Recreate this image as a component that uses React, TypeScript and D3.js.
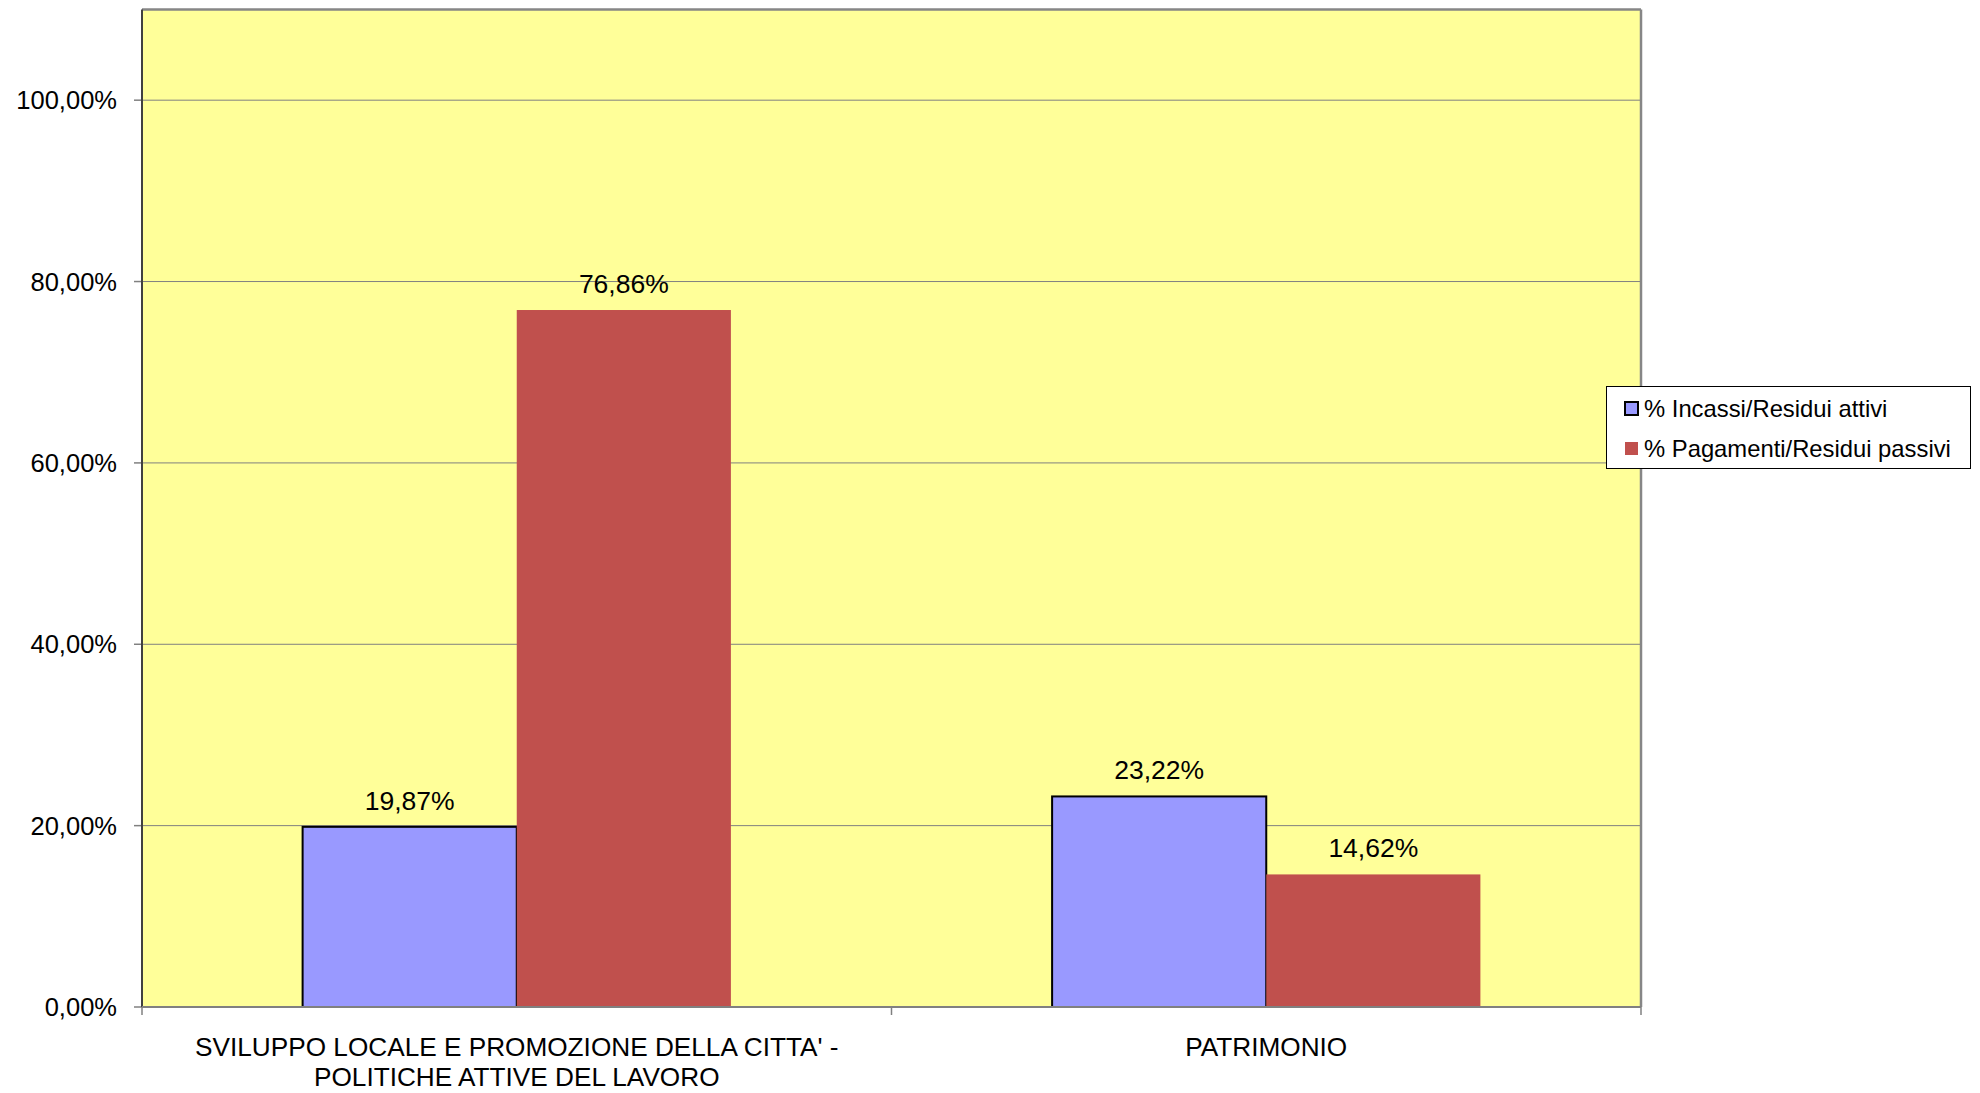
import React from "react";
import * as d3 from "d3";

const categories: string[][] = [
  ["SVILUPPO LOCALE E PROMOZIONE DELLA CITTA' -", "POLITICHE ATTIVE DEL LAVORO"],
  ["PATRIMONIO"],
];
const seriesNames = ["% Incassi/Residui attivi", "% Pagamenti/Residui passivi"];
const incassi = [19.87, 23.22];
const pagamenti = [76.86, 14.62];
const yTicks = [0, 20, 40, 60, 80, 100];

const W = 1980;
const H = 1093;
const left = 142;
const right = 1641;
const top = 9.5;
const bottom = 1007;
const FONT = "'Liberation Sans', Arial, sans-serif";

const fmt = (v: number) => v.toFixed(2).replace(".", ",") + "%";

export default function App() {
  const y = d3.scaleLinear().domain([0, 110]).range([bottom, top]);
  const x0 = d3
    .scaleBand<number>()
    .domain(categories.map((_, i) => i))
    .range([left, right])
    .paddingInner(0)
    .paddingOuter(0);
  const bw = x0.bandwidth();
  const barW = bw / 3.5;
  const x1 = d3
    .scaleBand<number>()
    .domain([0, 1])
    .range([0.75 * barW, bw - 0.75 * barW])
    .padding(0);
  const colors = ["#9999FF", "#C0504D"];
  const series = [incassi, pagamenti];

  return (
    <svg
      width={W}
      height={H}
      style={{ position: "absolute", left: 0, top: 0, display: "block" }}
      fontFamily={FONT}
    >
      <rect x={0} y={0} width={W} height={H} fill="#ffffff" />
      <rect x={left} y={top} width={right - left} height={bottom - top} fill="#FFFF99" />
      {yTicks.map((t) => (
        <g key={t}>
          {t > 0 && (
            <line x1={left} x2={right} y1={y(t)} y2={y(t)} stroke="#808080" strokeWidth={1} />
          )}
          <line x1={left - 8} x2={left} y1={y(t)} y2={y(t)} stroke="#808080" strokeWidth={1.5} />
          <text
            x={117}
            y={y(t)}
            textAnchor="end"
            dominantBaseline="central"
            fontSize={25.5}
            fill="#000"
          >
            {fmt(t)}
          </text>
        </g>
      ))}
      {/* top & right border */}
      <line x1={left} x2={right} y1={top} y2={top} stroke="#868686" strokeWidth={2.5} />
      <line x1={right} x2={right} y1={top} y2={bottom} stroke="#868686" strokeWidth={2.5} />
      {series.map((vals, s) =>
        vals.map((v, i) => {
          const bx = (x0(i) as number) + (x1(s) as number);
          const by = y(v);
          return (
            <g key={`${s}-${i}`}>
              <rect
                x={bx}
                y={by}
                width={x1.bandwidth()}
                height={bottom - by}
                fill={colors[s]}
                stroke={s === 0 ? "#000" : "none"}
                strokeWidth={s === 0 ? 2 : 0}
              />
              <text
                x={bx + x1.bandwidth() / 2}
                y={by - 17}
                textAnchor="middle"
                fontSize={26.5}
                fill="#000"
              >
                {fmt(v)}
              </text>
            </g>
          );
        })
      )}
      {/* axes */}
      <line x1={left} x2={left} y1={top} y2={bottom} stroke="#404040" strokeWidth={2} />
      <line x1={left} x2={right} y1={bottom} y2={bottom} stroke="#808080" strokeWidth={2} />
      {[0, 1, 2].map((k) => (
        <line
          key={k}
          x1={left + k * bw}
          x2={left + k * bw}
          y1={bottom}
          y2={bottom + 8}
          stroke="#808080"
          strokeWidth={1.5}
        />
      ))}
      {categories.map((lines, i) => (
        <text
          key={i}
          x={(x0(i) as number) + bw / 2}
          textAnchor="middle"
          fontSize={26.2}
          fill="#000"
        >
          {lines.map((ln, j) => (
            <tspan key={j} x={(x0(i) as number) + bw / 2} y={1056 + j * 29.5}>
              {ln}
            </tspan>
          ))}
        </text>
      ))}
      {/* legend */}
      <g>
        <rect x={1606.5} y={386.5} width={364} height={82} fill="#fff" stroke="#000" strokeWidth={1} />
        {seriesNames.map((n, i) => (
          <g key={n}>
            <rect
              x={1625}
              y={402 + i * 40}
              width={13}
              height={13}
              fill={colors[i]}
              stroke={i === 0 ? "#000" : "none"}
              strokeWidth={i === 0 ? 2 : 0}
            />
            <text x={1644} y={417 + i * 40} fontSize={23.8} fill="#000">
              {n}
            </text>
          </g>
        ))}
      </g>
    </svg>
  );
}
